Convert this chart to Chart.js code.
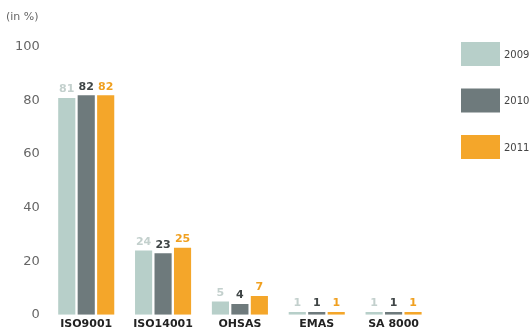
<!DOCTYPE html>
<html>
<head>
<meta charset="utf-8">
<script src="https://cdn.jsdelivr.net/npm/chart.js@4"></script>
<style>
  html, body { margin: 0; padding: 0; background: #fff; }
  #wrap { width: 531px; height: 334px; position: relative; }
</style>
</head>
<body>
<div id="wrap"><canvas id="myChart"></canvas></div>
<script>
const categories = ['ISO9001', 'ISO14001', 'OHSAS', 'EMAS', 'SA 8000'];
const years = ['2009', '2010', '2011'];
const values2009 = [81, 24, 5, 1, 1];
const values2010 = [82, 23, 4, 1, 1];
const values2011 = [82, 25, 7, 1, 1];
const yTicks = [0, 20, 40, 60, 80, 100];

const barColors = ['#b7cfc9', '#6e7a7c', '#f4a62a'];
const labelColors = ['#c3d0cd', '#3f4546', '#f0a020'];

// value labels above bars
const valueLabels = {
    id: 'valueLabels',
    afterDatasetsDraw(chart) {
        const c = chart.ctx;
        c.save();
        c.font = 'bold 11px "DejaVu Sans", sans-serif';
        c.textAlign = 'center';
        c.textBaseline = 'bottom';
        chart.data.datasets.forEach(function (ds, i) {
            const meta = chart.getDatasetMeta(i);
            meta.data.forEach(function (bar, j) {
                c.fillStyle = labelColors[i];
                c.fillText(ds.data[j], bar.x, bar.y - 3);
            });
        });
        c.restore();
    }
};

// legend boxes on the right + unit label
const sideLegend = {
    id: 'sideLegend',
    afterDraw(chart) {
        const c = chart.ctx;
        c.save();
        c.font = '11px "DejaVu Sans", sans-serif';
        c.fillStyle = '#666';
        c.textBaseline = 'middle';
        c.fillText('(in %)', 6, 17);
        chart.data.datasets.forEach(function (ds, i) {
            const y = 42 + i * 46.5;
            c.fillStyle = ds.backgroundColor;
            c.fillRect(461, y, 39, 24);
            c.fillStyle = '#444';
            c.font = '10px "DejaVu Sans", sans-serif';
            c.fillText(ds.label, 504, y + 13);
        });
        c.restore();
    }
};

new Chart(document.getElementById('myChart'), {
    type: 'bar',
    data: {
        labels: categories,
        datasets: [
            { label: years[0], data: values2009, backgroundColor: barColors[0] },
            { label: years[1], data: values2010, backgroundColor: barColors[1] },
            { label: years[2], data: values2011, backgroundColor: barColors[2] }
        ]
    },
    options: {
        responsive: true,
        maintainAspectRatio: false,
        animation: false,
        layout: { padding: { left: 7, right: 99, top: 47, bottom: 0 } },
        plugins: {
            legend: { display: false },
            tooltip: { enabled: false }
        },
        datasets: {
            bar: { categoryPercentage: 0.76, barPercentage: 0.88 }
        },
        scales: {
            x: {
                grid: { display: false, drawTicks: false },
                border: { display: false },
                ticks: {
                    color: '#222',
                    font: { family: '"DejaVu Sans", sans-serif', size: 11, weight: 'bold' },
                    padding: 3
                }
            },
            y: {
                min: 0,
                max: 100,
                afterBuildTicks: function (axis) {
                    axis.ticks = yTicks.map(function (v) { return { value: v }; });
                },
                grid: { display: false, drawTicks: false },
                border: { display: false },
                ticks: {
                    color: '#666',
                    font: { family: '"DejaVu Sans", sans-serif', size: 13 },
                    padding: 8
                }
            }
        }
    },
    plugins: [valueLabels, sideLegend]
});
</script>
</body>
</html>
